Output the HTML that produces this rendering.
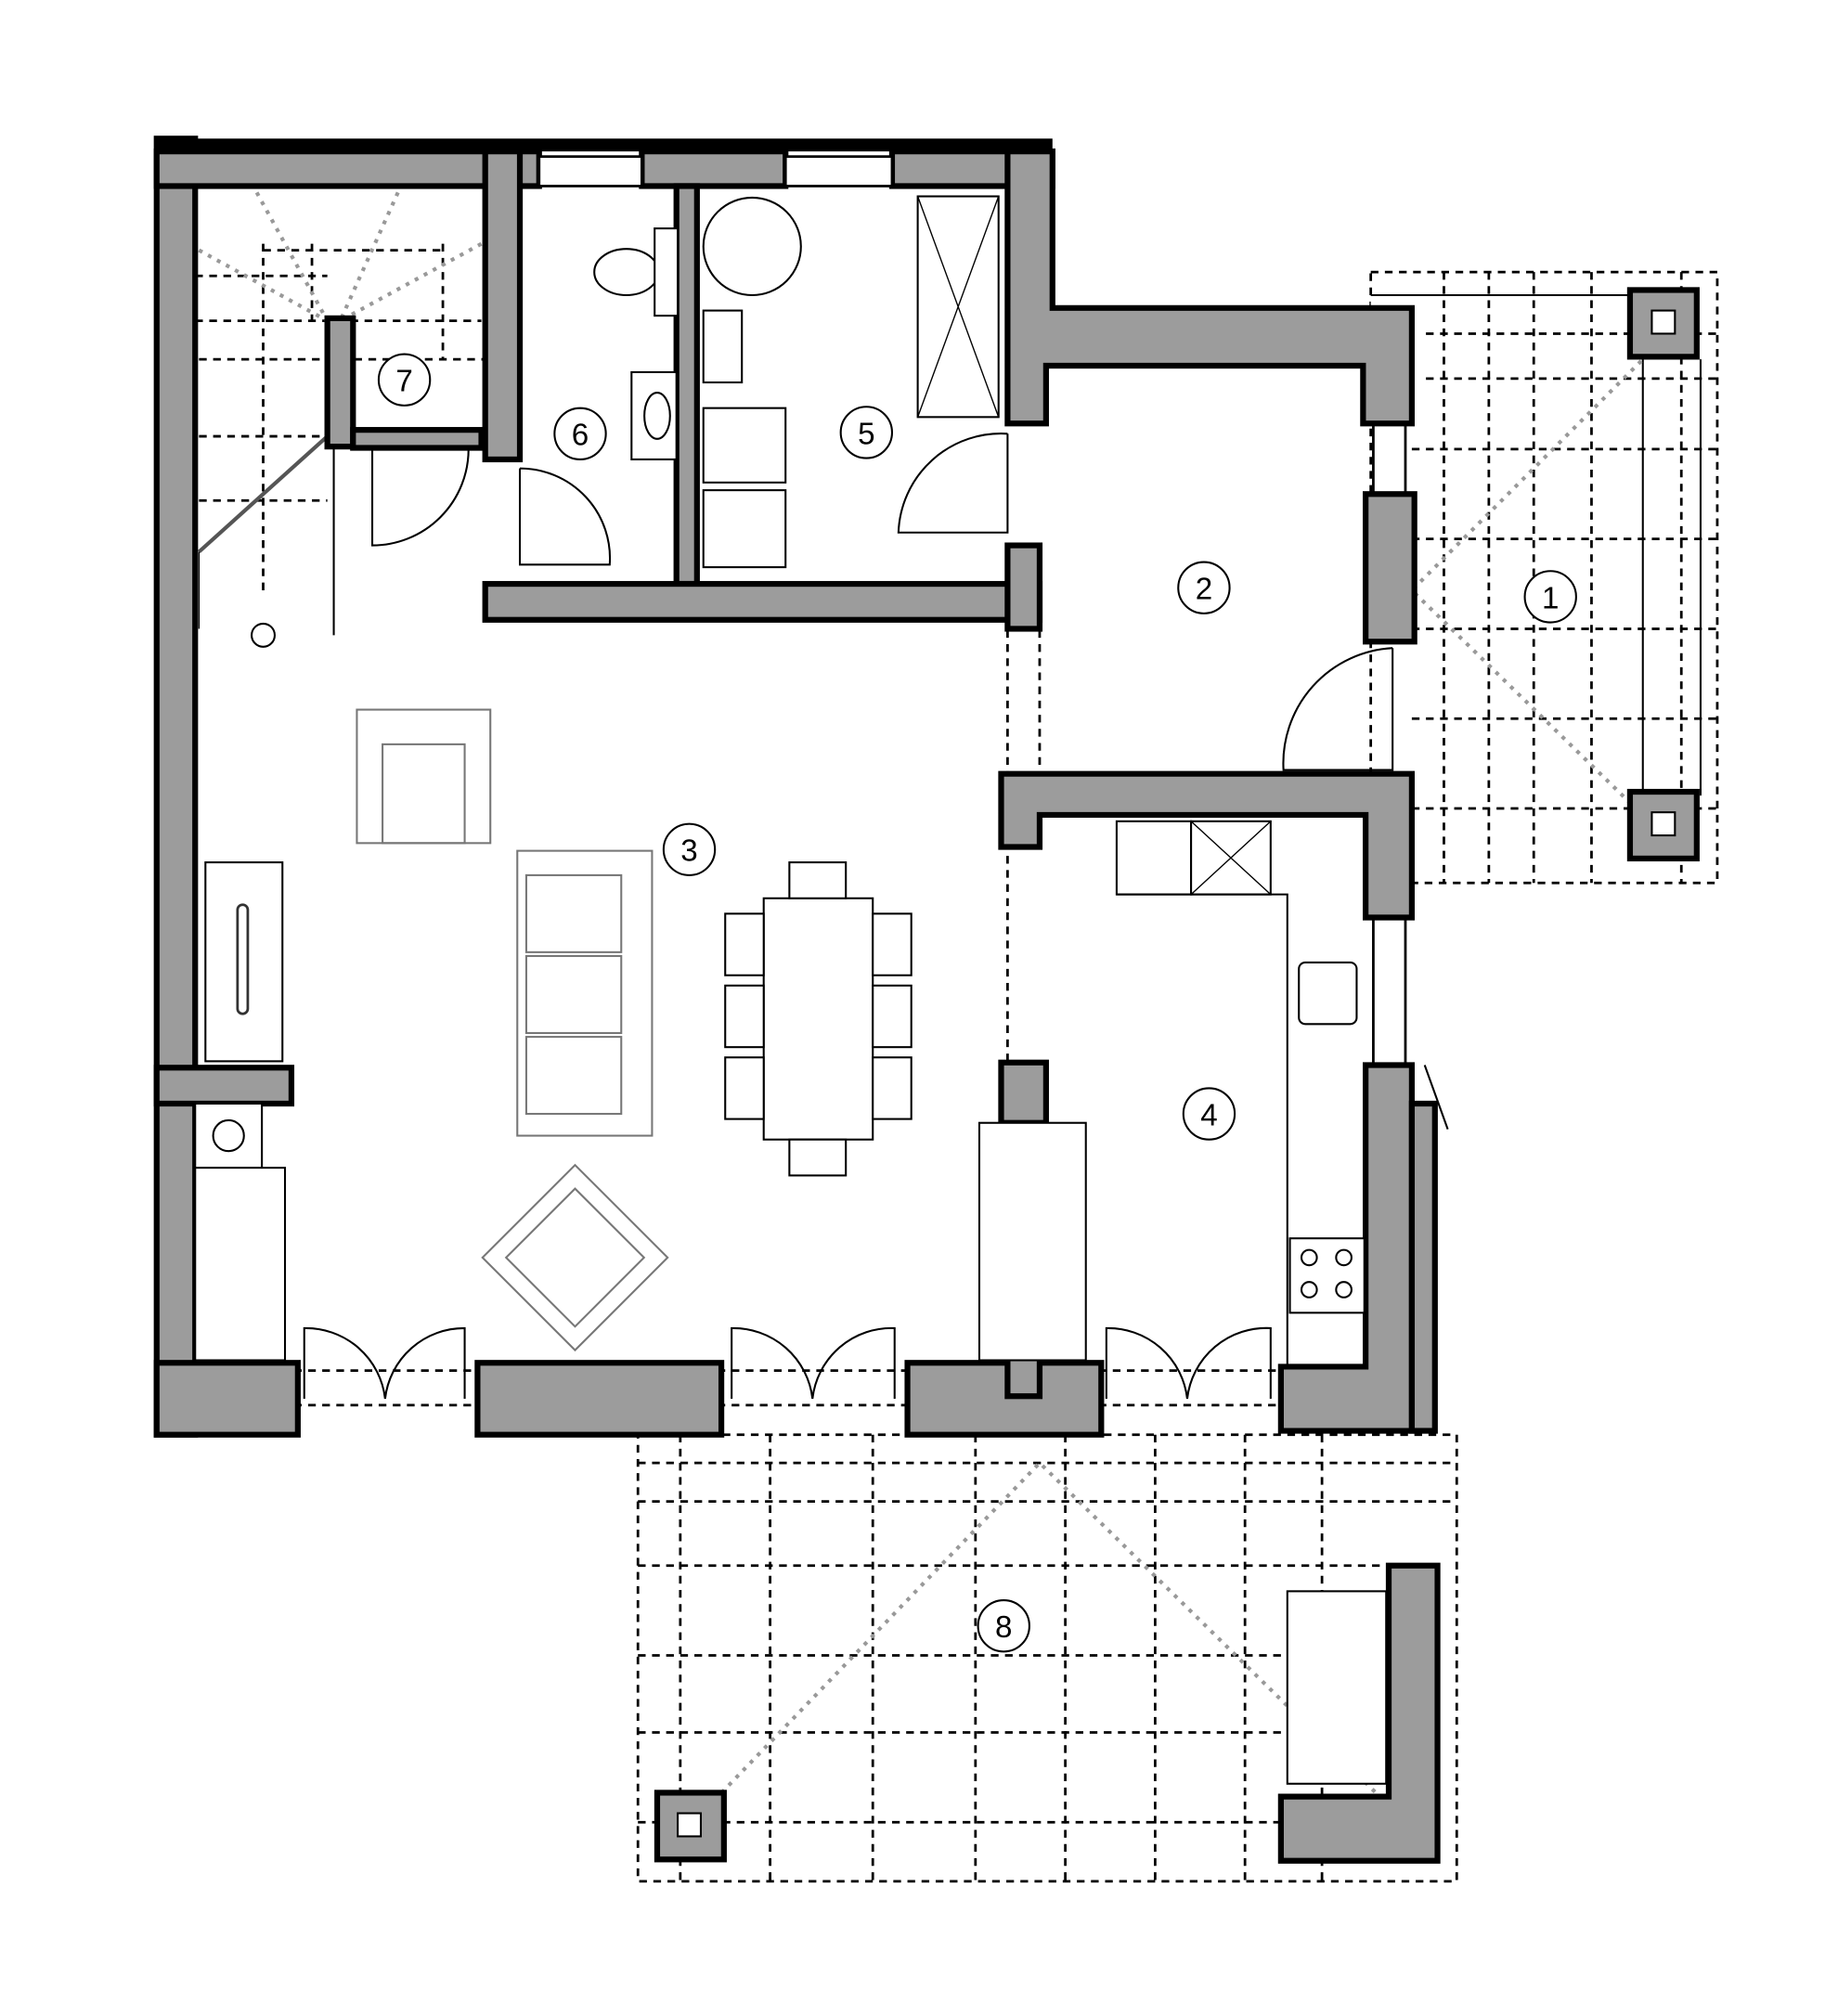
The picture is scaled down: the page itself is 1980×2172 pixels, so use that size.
<!DOCTYPE html><html><head><style>html,body{margin:0;padding:0;background:#fff}svg{display:block}</style></head><body>
<svg width="1980" height="2172" viewBox="0 0 1432 1571" xmlns="http://www.w3.org/2000/svg" font-family="Liberation Sans, sans-serif">
<defs><style>
.w{fill:#9c9c9c;stroke:#000;stroke-width:4.5}
.d{fill:none;stroke:#000;stroke-width:2;stroke-dasharray:6 5}
.g{fill:none;stroke:#999;stroke-width:3;stroke-dasharray:3 5}
.f{fill:#fff;stroke:#000;stroke-width:1.5}
.fg{fill:none;stroke:#777;stroke-width:1.5}
.c{fill:#fff;stroke:#000;stroke-width:1.5}
.t{font-size:24px;text-anchor:middle}
</style></defs>
<g class="d">
<rect x="1068" y="212" width="270" height="476"/>
<line x1="1100" y1="260" x2="1338" y2="260"/><line x1="1100" y1="295" x2="1338" y2="295"/>
<line x1="1100" y1="350" x2="1338" y2="350"/><line x1="1100" y1="420" x2="1338" y2="420"/>
<line x1="1100" y1="490" x2="1338" y2="490"/><line x1="1100" y1="560" x2="1338" y2="560"/>
<line x1="1100" y1="630" x2="1338" y2="630"/>
<line x1="1125" y1="212" x2="1125" y2="688"/><line x1="1160" y1="212" x2="1160" y2="688"/>
<line x1="1195" y1="212" x2="1195" y2="688"/><line x1="1240" y1="212" x2="1240" y2="688"/>
<line x1="1310" y1="212" x2="1310" y2="688"/>
</g>
<rect x="1068" y="230" width="40" height="90" fill="#fff"/>
<line x1="1068" y1="230" x2="1300" y2="230" stroke="#000" stroke-width="1.5"/>
<line x1="1280" y1="280" x2="1280" y2="620" stroke="#000" stroke-width="1.5"/>
<line x1="1325" y1="280" x2="1325" y2="620" stroke="#000" stroke-width="1.5"/>
<path class="g" d="M1290 270 L1100 460 L1290 645"/>
<rect class="w" x="1270" y="226" width="52" height="52"/><rect class="f" x="1287" y="242" width="18" height="18"/>
<rect class="w" x="1270" y="617" width="52" height="52"/><rect class="f" x="1287" y="633" width="18" height="18"/>
<g class="d">
<rect x="497" y="1118" width="638" height="348"/>
<line x1="497" y1="1140" x2="1135" y2="1140"/><line x1="497" y1="1170" x2="1135" y2="1170"/>
<line x1="497" y1="1220" x2="1080" y2="1220"/><line x1="497" y1="1290" x2="1080" y2="1290"/>
<line x1="497" y1="1350" x2="1080" y2="1350"/><line x1="497" y1="1420" x2="1080" y2="1420"/>
<line x1="530" y1="1118" x2="530" y2="1466"/><line x1="600" y1="1118" x2="600" y2="1466"/>
<line x1="680" y1="1118" x2="680" y2="1466"/><line x1="760" y1="1118" x2="760" y2="1466"/>
<line x1="830" y1="1118" x2="830" y2="1466"/><line x1="900" y1="1118" x2="900" y2="1466"/>
<line x1="970" y1="1118" x2="970" y2="1466"/><line x1="1030" y1="1118" x2="1030" y2="1466"/>
</g>
<path class="g" d="M540 1420 L810 1140 L1075 1400"/>
<rect class="f" x="1003" y="1240" width="77" height="150"/>
<rect class="w" x="512" y="1397" width="52" height="52"/><rect class="f" x="528" y="1413" width="18" height="18"/>
<path class="w" d="M1082 1220 L1120 1220 L1120 1450 L998 1450 L998 1400 L1082 1400 Z"/>
<g class="d">
<line x1="785" y1="480" x2="785" y2="1060"/><line x1="810" y1="480" x2="810" y2="600"/>
<line x1="152" y1="1068" x2="1000" y2="1068"/><line x1="152" y1="1095" x2="1000" y2="1095"/>
<line x1="152" y1="215" x2="255" y2="215"/>
<line x1="155" y1="280" x2="380" y2="280"/><line x1="155" y1="340" x2="255" y2="340"/>
<line x1="155" y1="390" x2="255" y2="390"/><line x1="205" y1="190" x2="205" y2="460"/>
<line x1="243" y1="190" x2="243" y2="250"/><line x1="345" y1="190" x2="345" y2="280"/>
<line x1="205" y1="195" x2="345" y2="195"/><line x1="152" y1="250" x2="375" y2="250"/>
</g>
<path class="g" d="M155 195 L255 250 M200 150 L255 250 M310 150 L265 250 M375 190 L265 250"/>
<line x1="155" y1="430" x2="255" y2="340" stroke="#555" stroke-width="3"/>
<line x1="155" y1="430" x2="155" y2="490" stroke="#000" stroke-width="1"/>
<line x1="260" y1="350" x2="260" y2="495" stroke="#000" stroke-width="1.5"/>
<circle cx="205" cy="495" r="9" class="f"/>
<rect class="w" x="122" y="108" width="30" height="1010"/>
<rect x="122" y="108" width="698" height="10" fill="#000"/>
<rect class="w" x="122" y="118" width="298" height="27"/>
<rect class="w" x="500" y="118" width="112" height="27"/>
<rect class="w" x="695" y="118" width="125" height="27"/>
<rect x="420" y="122" width="80" height="23" fill="#fff" stroke="#000" stroke-width="2"/>
<rect x="612" y="122" width="83" height="23" fill="#fff" stroke="#000" stroke-width="2"/>
<path class="w" d="M785 118 L820 118 L820 240 L1100 240 L1100 330 L1062 330 L1062 285 L815 285 L815 330 L785 330 Z"/>
<rect class="w" x="378" y="118" width="27" height="240"/>
<rect class="w" x="527" y="145" width="16" height="310"/>
<rect class="w" x="378" y="455" width="432" height="28"/>
<rect class="w" x="785" y="425" width="25" height="65"/>
<rect class="w" x="255" y="248" width="20" height="100"/>
<rect class="w" x="275" y="335" width="100" height="14"/>
<rect class="w" x="1064" y="385" width="38" height="115"/>
<path class="w" d="M780 603 L1100 603 L1100 715 L1064 715 L1064 635 L810 635 L810 660 L780 660 Z"/>
<path class="w" d="M1064 830 L1100 830 L1100 1115 L998 1115 L998 1065 L1064 1065 Z"/>
<rect class="w" x="1100" y="860" width="18" height="255"/>
<rect class="w" x="122" y="1062" width="110" height="56"/>
<rect class="w" x="372" y="1062" width="190" height="56"/>
<rect class="w" x="707" y="1062" width="151" height="56"/>
<rect class="w" x="780" y="828" width="35" height="47"/>
<rect class="w" x="785" y="1040" width="25" height="48"/>
<rect class="w" x="122" y="832" width="105" height="28"/>
<line x1="1070" y1="330" x2="1070" y2="385" stroke="#000" stroke-width="2"/><line x1="1095" y1="330" x2="1095" y2="385" stroke="#000" stroke-width="2"/>
<line x1="1070" y1="715" x2="1070" y2="830" stroke="#000" stroke-width="2"/><line x1="1095" y1="715" x2="1095" y2="830" stroke="#000" stroke-width="2"/>
<g fill="none" stroke="#000" stroke-width="1.5">
<path d="M290 350 L290 425 A75 75 0 0 0 365 350"/>
<path d="M405 365 L405 440 L475 440 A70 70 0 0 0 405 365"/>
<path d="M785 338 L785 415 L700 415 A80 80 0 0 1 785 338"/>
<path d="M1085 505 L1085 600 L1000 600 A90 90 0 0 1 1085 505"/>
<path d="M237 1090 L237 1035 A62 62 0 0 1 300 1090 M362 1090 L362 1035 A62 62 0 0 0 300 1090"/>
<path d="M570 1090 L570 1035 A62 62 0 0 1 633 1090 M697 1090 L697 1035 A62 62 0 0 0 633 1090"/>
<path d="M862 1090 L862 1035 A62 62 0 0 1 925 1090 M990 1090 L990 1035 A62 62 0 0 0 925 1090"/>
<path d="M1110 830 L1128 880"/>
</g>
<ellipse class="f" cx="488" cy="212" rx="25" ry="18"/><rect class="f" x="510" y="178" width="18" height="68"/>
<rect class="f" x="492" y="290" width="35" height="68"/><ellipse class="f" cx="512" cy="324" rx="10" ry="18"/>
<circle class="f" cx="586" cy="192" r="38"/>
<rect class="f" x="548" y="242" width="30" height="56"/>
<rect class="f" x="548" y="318" width="64" height="58"/><rect class="f" x="548" y="382" width="64" height="60"/>
<rect class="f" x="715" y="153" width="63" height="172"/>
<path d="M715 153 L778 325 M778 153 L715 325" stroke="#000" stroke-width="1"/>
<rect class="fg" x="278" y="553" width="104" height="104"/><rect class="fg" x="298" y="580" width="64" height="77"/>
<rect class="fg" x="403" y="663" width="105" height="222"/>
<rect class="fg" x="410" y="682" width="74" height="60"/><rect class="fg" x="410" y="745" width="74" height="60"/><rect class="fg" x="410" y="808" width="74" height="60"/>
<rect class="fg" x="397" y="929" width="102" height="102" transform="rotate(45 448 980)"/>
<rect class="fg" x="410" y="942" width="76" height="76" transform="rotate(45 448 980)"/>
<rect class="f" x="595" y="700" width="85" height="188"/>
<rect class="f" x="615" y="672" width="44" height="28"/><rect class="f" x="615" y="888" width="44" height="28"/>
<rect class="f" x="565" y="712" width="30" height="48"/><rect class="f" x="565" y="768" width="30" height="48"/><rect class="f" x="565" y="824" width="30" height="48"/>
<rect class="f" x="680" y="712" width="30" height="48"/><rect class="f" x="680" y="768" width="30" height="48"/><rect class="f" x="680" y="824" width="30" height="48"/>
<rect class="f" x="160" y="672" width="60" height="155"/><rect x="185" y="705" width="8" height="85" fill="#fff" stroke="#333" stroke-width="2" rx="4"/>
<rect class="f" x="152" y="860" width="52" height="50"/><circle class="f" cx="178" cy="885" r="12"/>
<rect class="f" x="152" y="910" width="70" height="150"/>
<rect class="f" x="763" y="875" width="83" height="185"/>
<rect class="f" x="870" y="640" width="58" height="57"/><rect class="f" x="928" y="640" width="62" height="57"/>
<path d="M928 640 L990 697 M990 640 L928 697" stroke="#000" stroke-width="1"/>
<path d="M870 697 L1003 697 L1003 1063" fill="none" stroke="#000" stroke-width="1.5"/>
<rect class="f" x="1012" y="750" width="45" height="48" rx="5"/>
<rect class="f" x="1005" y="965" width="58" height="58"/>
<circle class="f" cx="1020" cy="980" r="6"/><circle class="f" cx="1047" cy="980" r="6"/><circle class="f" cx="1020" cy="1005" r="6"/><circle class="f" cx="1047" cy="1005" r="6"/>
<g class="t">
<circle class="c" cx="1208" cy="465" r="20"/><text x="1208" y="474">1</text>
<circle class="c" cx="938" cy="458" r="20"/><text x="938" y="467">2</text>
<circle class="c" cx="537" cy="662" r="20"/><text x="537" y="671">3</text>
<circle class="c" cx="942" cy="868" r="20"/><text x="942" y="877">4</text>
<circle class="c" cx="675" cy="337" r="20"/><text x="675" y="346">5</text>
<circle class="c" cx="452" cy="338" r="20"/><text x="452" y="347">6</text>
<circle class="c" cx="315" cy="296" r="20"/><text x="315" y="305">7</text>
<circle class="c" cx="782" cy="1267" r="20"/><text x="782" y="1276">8</text>
</g>
</svg>
</body></html>
